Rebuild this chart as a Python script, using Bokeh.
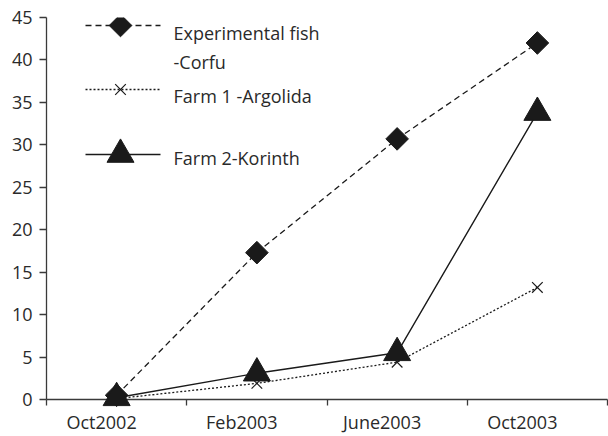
import math
from bokeh.plotting import figure
from bokeh.models import Range1d, FixedTicker, Label
from bokeh.embed import file_html
from bokeh.resources import INLINE

# ---- data ----
categories = ["Oct2002", "Feb2003", "June2003", "Oct2003"]
exp_fish = [0.5, 17.3, 30.7, 42.0]
farm1 = [0.1, 1.9, 4.4, 13.2]
farm2 = [0.2, 3.1, 5.5, 33.8]
y_ticks = [0, 5, 10, 15, 20, 25, 30, 35, 40, 45]
legend_labels = [["Experimental fish", "-Corfu"], ["Farm 1 -Argolida"], ["Farm 2-Korinth"]]

FONT = "Open Sans"
FS = "18px"
INK = "#1a1a1a"
AX = "#3a3a3a"
TXT = "#2a2a2a"

W, H = 608, 436
BL, BR, BT, BB = 46, 1, 17, 37
p = figure(width=W, height=H, x_range=Range1d(0, 4), y_range=Range1d(0, 45),
           output_backend="svg", toolbar_location=None,
           min_border_left=BL, min_border_right=BR, min_border_top=BT, min_border_bottom=BB)
p.outline_line_color = None
p.xgrid.visible = False
p.ygrid.visible = False

# category positions (centres of the bands)
xs = [i + 0.5 for i in range(len(categories))]
label_pos = [i + 0.393 for i in range(len(categories))]

xa = p.xaxis[0]
xa.ticker = FixedTicker(ticks=label_pos, minor_ticks=list(range(len(categories) + 1)))
xa.major_label_overrides = {lp: c for lp, c in zip(label_pos, categories)}
xa.major_tick_out = 0
xa.major_tick_in = 0
xa.minor_tick_out = 6
xa.minor_tick_in = 0
xa.major_label_standoff = 4

ya = p.yaxis[0]
ya.ticker = FixedTicker(ticks=y_ticks, minor_ticks=[])
ya.major_tick_out = 7
ya.major_tick_in = 0
ya.major_label_standoff = 7

for ax in (xa, ya):
    ax.axis_line_color = AX
    ax.axis_line_width = 1.3
    ax.major_tick_line_color = AX
    ax.major_tick_line_width = 1.3
    ax.minor_tick_line_color = AX
    ax.minor_tick_line_width = 1.3
    ax.major_label_text_font = FONT
    ax.major_label_text_font_size = FS
    ax.major_label_text_color = TXT

# ---- series ----
p.line(xs, exp_fish, line_color=INK, line_width=1.3, line_dash="6 4")
p.line(xs, farm1, line_color=INK, line_width=1.3, line_dash="2 2")
p.line(xs, farm2, line_color=INK, line_width=1.4)
r1 = p.scatter(xs, exp_fish, marker="square", angle=math.pi / 4, size=16, fill_color=INK, line_color=INK)
r2 = p.scatter(xs, farm1, marker="x", size=15, line_color=INK, line_width=1.2)
r3 = p.scatter(xs, farm2, marker="triangle", size=27, fill_color=INK, line_color=INK)
for r in (r1, r2, r3):
    r.level = "overlay"

# ---- legend (drawn in plot coordinates) ----
FW = W - BL - BR
FH = H - BT - BB
def px2x(px):
    return (px - BL) / FW * 4
def px2y(py):
    return (FH + BT - py) / FH * 45

sx0, sx1, smid, tx = 85, 160, 120, 173
rows = [25, 89, 154]
dashes = ["6 4", "2 2", "solid"]
for yy, dash in zip(rows, dashes):
    p.line([px2x(sx0), px2x(sx1)], [px2y(yy), px2y(yy)], line_color=INK, line_width=1.3, line_dash=dash)
m1 = p.scatter([px2x(smid)], [px2y(rows[0])], marker="square", angle=math.pi / 4, size=16, fill_color=INK, line_color=INK)
m2 = p.scatter([px2x(smid)], [px2y(rows[1])], marker="x", size=15, line_color=INK, line_width=1.2)
m3 = p.scatter([px2x(smid)], [px2y(rows[2])], marker="triangle", size=27, fill_color=INK, line_color=INK)

baselines = [[32, 61], [95], [157]]
for lines, bls in zip(legend_labels, baselines):
    for txt, bl in zip(lines, bls):
        p.add_layout(Label(x=px2x(tx), y=px2y(bl), text=txt, text_font=FONT, text_font_size=FS,
                           text_color=TXT, text_baseline="alphabetic", text_align="left"))

open("out.html", "w").write(file_html(p, INLINE))
